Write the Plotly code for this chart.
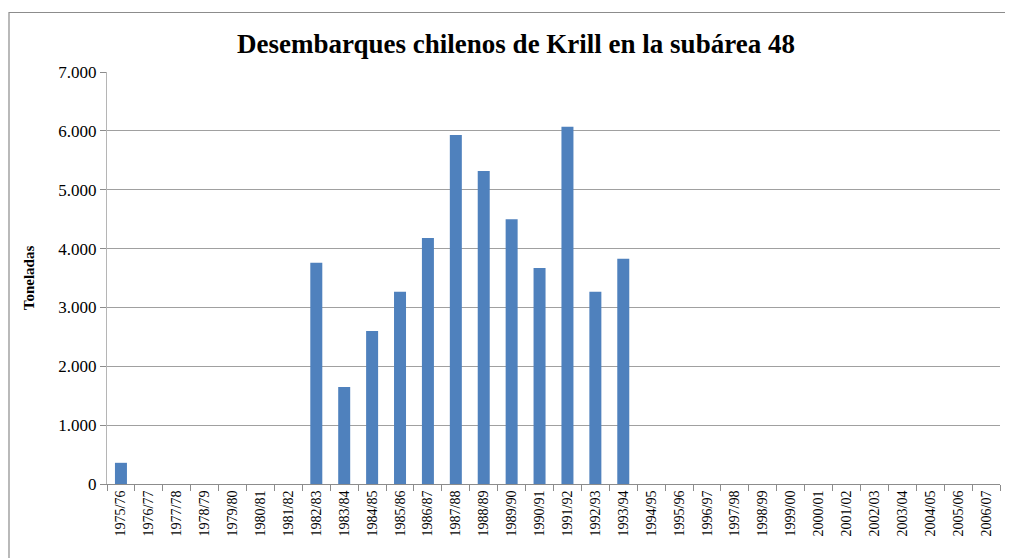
import plotly.graph_objects as go

seasons = ["1975/76", "1976/77", "1977/78", "1978/79", "1979/80", "1980/81", "1981/82",
           "1982/83", "1983/84", "1984/85", "1985/86", "1986/87", "1987/88", "1988/89",
           "1989/90", "1990/91", "1991/92", "1992/93", "1993/94", "1994/95", "1995/96",
           "1996/97", "1997/98", "1998/99", "1999/00", "2000/01", "2001/02", "2002/03",
           "2003/04", "2004/05", "2005/06", "2006/07"]
toneladas = [360, 0, 0, 0, 0, 0, 0,
             3760, 1650, 2600, 3265, 4180, 5930, 5320,
             4500, 3670, 6070, 3265, 3825, 0, 0,
             0, 0, 0, 0, 0, 0, 0,
             0, 0, 0, 0]
y_ticks = [0, 1000, 2000, 3000, 4000, 5000, 6000, 7000]

# the page body adds an 8px offset; the figure is sized to fit the window after it
OFF = 8
W, H = 1013 - OFF, 558 - OFF
L, T = 107 - OFF, 72 - OFF
plot_right = 1000 - OFF
plot_bottom = 484 - OFF
R, B = W - plot_right, H - plot_bottom
pw, ph = W - L - R, H - T - B

def px_x(px):
    return (px - OFF - L) / pw

def px_y(py):
    return (plot_bottom - (py - OFF)) / ph

SERIF = "Liberation Serif, Times New Roman, serif"

fig = go.Figure(go.Bar(x=seasons, y=toneladas, marker_color="#4F81BD",
                       marker_line_width=0))

fig.update_layout(
    width=W, height=H,
    margin=dict(l=L, r=R, t=T, b=B, autoexpand=False),
    paper_bgcolor="white", plot_bgcolor="white",
    bargap=0.57,
    separators=",.",
    showlegend=False,
    font=dict(family=SERIF, color="black"),
    title=dict(text="<b>Desembarques chilenos de Krill en la subárea 48</b>",
               x=(516 - OFF) / W, xanchor="center", y=1 - (44 - OFF) / H, yanchor="middle",
               font=dict(family=SERIF, size=27, color="black")),
    xaxis=dict(type="category", tickangle=-90, tickson="boundaries",
               ticks="outside", ticklen=6, tickcolor="#8c8c8c",
               showline=True, linecolor="#8c8c8c", linewidth=1,
               showgrid=False, tickfont=dict(family=SERIF, size=14, color="black")),
    yaxis=dict(range=[0, 7000], tickvals=y_ticks, tickformat=",d",
               ticks="outside", ticklen=6, tickcolor="#8c8c8c",
               showline=True, linecolor="#b5b5b5", linewidth=1,
               showgrid=True, gridcolor="#a0a0a0", gridwidth=1,
               zeroline=False,
               tickfont=dict(family=SERIF, size=17, color="black"),
               title=dict(text="<b>Toneladas</b>", standoff=20,
                          font=dict(family=SERIF, size=15, color="black"))),
    shapes=[dict(type="rect", xref="paper", yref="paper",
                 x0=px_x(9), x1=px_x(1030), y0=px_y(570), y1=px_y(12.5),
                 line=dict(color="#8c8c8c", width=1.2), fillcolor="rgba(0,0,0,0)",
                 layer="below")],
)

fig.write_html("out.html")
